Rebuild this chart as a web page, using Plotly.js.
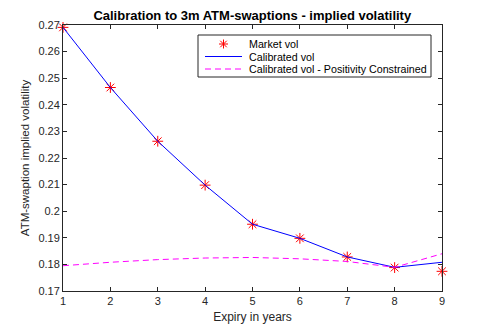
<!DOCTYPE html>
<html>
<head>
<meta charset="utf-8">
<script src="https://cdn.plot.ly/plotly-3.0.1.min.js"></script>
<style>
  body { margin: 0; background: #fff; }
  #chart { width: 488px; height: 327px; }
</style>
</head>
<body>
<div id="chart"></div>
<script>
// expiries (years) and vols
const expiry = [1, 2, 3, 4, 5, 6, 7, 8, 9];
const marketVol = [0.2691, 0.2465, 0.2263, 0.2098, 0.1951, 0.1898, 0.1828, 0.1788, 0.1774];
const calibVol = [0.2691, 0.2465, 0.2263, 0.2098, 0.1951, 0.1898, 0.1828, 0.1789, 0.1808];
const posConstrVol = [0.1795, 0.1808, 0.1818, 0.1824, 0.1826, 0.1821, 0.1811, 0.1789, 0.1840];
const seriesNames = ['Market vol', 'Calibrated vol', 'Calibrated vol - Positivity Constrained'];

const axisColor = '#262626';
const fontFam = 'Liberation Sans, Arial, Helvetica, sans-serif';
const red = '#ff0000';
const blue = '#0000ff';
const magenta = '#ff00ff';
const dashStyle = '6px,4px';

// plot area in pixels: l 63, r 442, t 25, b 291
const M = { l: 63, r: 46, t: 25, b: 36 };
const plotW = 488 - M.l - M.r;
const plotH = 327 - M.t - M.b;
const px = (x) => (x - M.l) / plotW;
const py = (y) => (327 - M.b - y) / plotH;

const traces = [
  {
    x: expiry,
    y: marketVol,
    name: seriesNames[0],
    type: 'scatter',
    mode: 'markers',
    marker: { symbol: 'asterisk-open', size: 9, color: red, line: { color: red, width: 1 } },
    cliponaxis: false,
  },
  {
    x: expiry,
    y: calibVol,
    name: seriesNames[1],
    type: 'scatter',
    mode: 'lines',
    line: { color: blue, width: 1 },
  },
  {
    x: expiry,
    y: posConstrVol,
    name: seriesNames[2],
    type: 'scatter',
    mode: 'lines',
    line: { color: magenta, width: 1, dash: dashStyle },
  },
];

// hand-built legend, plotly's own rows are too tall compared to the original
const legBox = { x0: 198, x1: 431, y0: 35, y1: 77 };
const rowY = [44, 56.5, 69];
const keyX = [205, 242];
const textX = 247;

function asteriskPath(cx, cy, r) {
  const d = r * 0.72;
  const pts = [
    [cx - r, cy, cx + r, cy],
    [cx, cy - r, cx, cy + r],
    [cx - d, cy - d, cx + d, cy + d],
    [cx - d, cy + d, cx + d, cy - d],
  ];
  return pts.map((p) => `M${px(p[0])},${py(p[1])} L${px(p[2])},${py(p[3])}`).join(' ');
}

const shapes = [
  {
    type: 'rect', xref: 'paper', yref: 'paper',
    x0: px(legBox.x0), x1: px(legBox.x1), y0: py(legBox.y1), y1: py(legBox.y0),
    line: { color: axisColor, width: 1 }, fillcolor: '#ffffff', layer: 'above',
  },
  {
    type: 'path', xref: 'paper', yref: 'paper',
    path: asteriskPath((keyX[0] + keyX[1]) / 2, rowY[0], 4.5),
    line: { color: red, width: 1 }, layer: 'above',
  },
  {
    type: 'line', xref: 'paper', yref: 'paper',
    x0: px(keyX[0]), x1: px(keyX[1]), y0: py(rowY[1]), y1: py(rowY[1]),
    line: { color: blue, width: 1 }, layer: 'above',
  },
  {
    type: 'line', xref: 'paper', yref: 'paper',
    x0: px(keyX[0]), x1: px(keyX[1]), y0: py(rowY[2]), y1: py(rowY[2]),
    line: { color: magenta, width: 1, dash: dashStyle }, layer: 'above',
  },
];

const annotations = seriesNames.map((name, i) => ({
  text: name,
  xref: 'paper', yref: 'paper',
  x: px(textX), y: py(rowY[i]),
  xanchor: 'left', yanchor: 'middle',
  showarrow: false,
  font: { size: 10.7, color: '#000000' },
}));

const layout = {
  width: 488,
  height: 327,
  paper_bgcolor: '#ffffff',
  plot_bgcolor: '#ffffff',
  font: { family: fontFam, size: 11, color: axisColor },
  margin: M,
  showlegend: false,
  title: {
    text: '<b>Calibration to 3m ATM-swaptions - implied volatility</b>',
    font: { size: 13, color: '#000000' },
    x: 0.517,
    xanchor: 'center',
    y: 0.954,
    yanchor: 'middle',
  },
  xaxis: {
    range: [1, 9],
    tickvals: expiry,
    ticks: 'inside',
    ticklen: 4,
    tickcolor: axisColor,
    showline: true,
    linecolor: axisColor,
    linewidth: 1,
    mirror: 'ticks',
    showgrid: false,
    zeroline: false,
    title: { text: 'Expiry in years', font: { size: 12 }, standoff: 6 },
  },
  yaxis: {
    range: [0.17, 0.27],
    dtick: 0.01,
    tickformat: '~g',
    ticks: 'inside',
    ticklen: 4,
    tickcolor: axisColor,
    showline: true,
    linecolor: axisColor,
    linewidth: 1,
    mirror: 'ticks',
    showgrid: false,
    zeroline: false,
    title: { text: 'ATM-swaption implied volatility', font: { size: 11.5 }, standoff: 6 },
  },
  shapes,
  annotations,
};

Plotly.newPlot('chart', traces, layout, { displayModeBar: false, staticPlot: true });
</script>
</body>
</html>
